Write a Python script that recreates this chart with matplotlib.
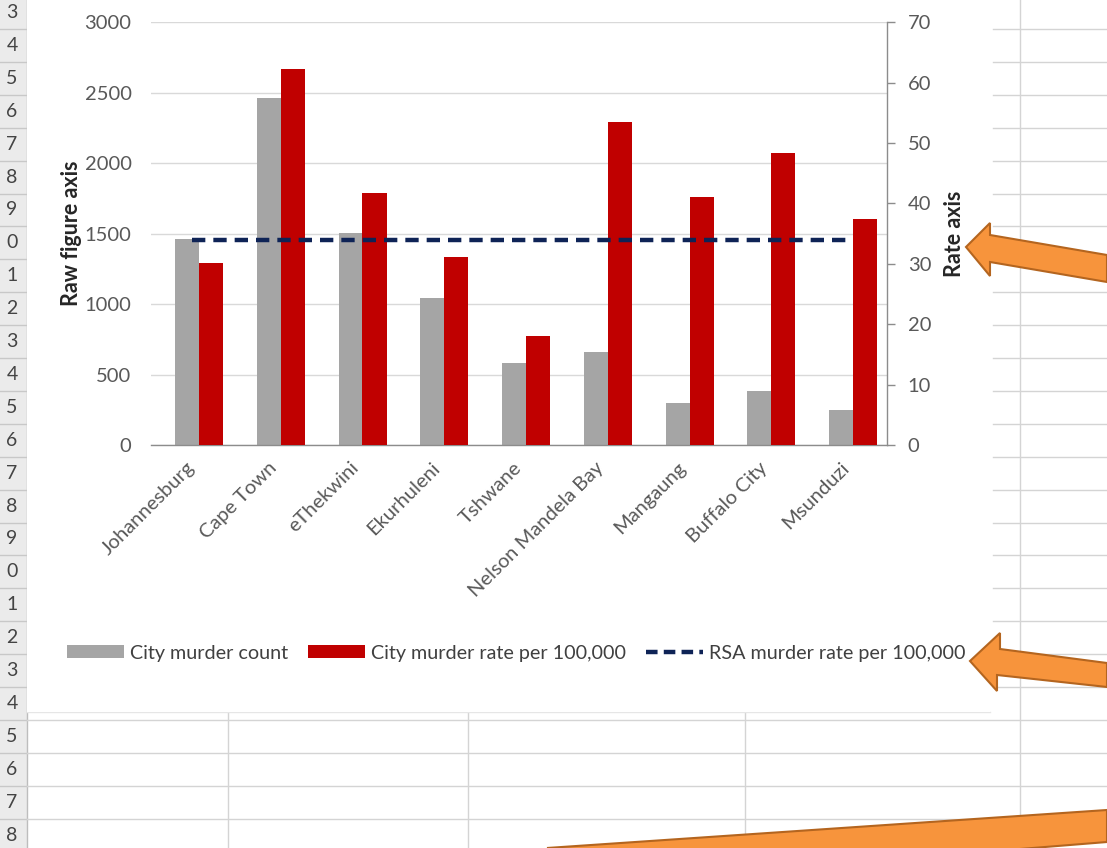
import matplotlib
matplotlib.use("Agg")
import matplotlib.pyplot as plt
from matplotlib.patches import Polygon, Rectangle, Patch
from matplotlib.lines import Line2D
from matplotlib.transforms import ScaledTranslation
import numpy as np

# ---------------- data ----------------
cities = ["Johannesburg", "Cape Town", "eThekwini", "Ekurhuleni", "Tshwane",
          "Nelson Mandela Bay", "Mangaung", "Buffalo City", "Msunduzi"]
murder_count = [1461, 2463, 1506, 1040, 579, 660, 300, 385, 248]
murder_rate = [30.1, 62.2, 41.7, 31.2, 18.0, 53.5, 41.1, 48.3, 37.4]
rsa_rate = [33.9, 33.9, 33.9, 33.9, 33.9, 33.9, 33.9, 33.9, 33.9]
count_ticks = [0, 500, 1000, 1500, 2000, 2500, 3000]
rate_ticks = [0, 10, 20, 30, 40, 50, 60, 70]
legend_labels = ["City murder count", "City murder rate per 100,000",
                 "RSA murder rate per 100,000"]

W, H = 1107, 848
FONT = "Lato"
GRAY = "#A5A5A5"
RED = "#C00000"
NAVY = "#0E2356"
TXT = "#595959"
SHEET = "#D4D4D4"
ORANGE = "#F7943C"
ORANGE_EDGE = "#B4651F"

plt.rcParams["font.family"] = [FONT, "DejaVu Sans"]

fig = plt.figure(figsize=(W / 100, H / 100), dpi=100)
fig.patch.set_facecolor("white")


def P(x, y):
    return (x / W, 1 - y / H)


def hline(x0, x1, y, color=SHEET, lw=1.0, z=-3):
    fig.add_artist(Line2D([x0 / W, x1 / W], [1 - y / H, 1 - y / H],
                          transform=fig.transFigure, color=color, lw=lw, zorder=z))


def vline(x, y0, y1, color=SHEET, lw=1.0, z=-3):
    fig.add_artist(Line2D([x / W, x / W], [1 - y0 / H, 1 - y1 / H],
                          transform=fig.transFigure, color=color, lw=lw, zorder=z))


# ---------------- spreadsheet background ----------------
row_h = 32.9
row0 = 29.0
fig.add_artist(Rectangle(P(0, H), 27 / W, 1, transform=fig.transFigure,
                         facecolor="#EBEBEB", edgecolor="none", zorder=-4))
vline(27, 0, H, color="#BDBDBD", z=-3)
for k in range(-1, 26):
    y_top = row0 + k * row_h
    if k >= 0:
        hline(0, 27, y_top, color="#C8C8C8")
    r = k + 4
    yc = y_top + row_h / 2
    if 3 <= r <= 28 and yc < H:
        fig.text(12 / W, 1 - yc / H, str(r)[-1], ha="center", va="center",
                 fontsize=14, color="#444444", family=[FONT, "DejaVu Sans"], zorder=-2)
for k in range(0, 21):
    hline(993, W, row0 + k * row_h)
vline(1020, 0, H)
for k in range(21, 25):
    hline(27, W, row0 + k * row_h)
for xv in [228, 468, 745]:
    vline(xv, 712, H)
hline(27, 990, 712, color="#E6E6E6")
fig.add_artist(Rectangle(P(27, 712), (990 - 27) / W, 712 / H, transform=fig.transFigure,
                         facecolor="white", edgecolor="none", zorder=-2.5))

# ---------------- chart ----------------
ax = fig.add_axes([151 / W, 1 - 445 / H, (887 - 151) / W, (445 - 22.3) / H])
x = np.arange(len(cities))
ax.bar(x - 0.06, murder_count, width=0.294, color=GRAY, zorder=2)
ax.set_xlim(-0.5, len(cities) - 0.5)
ax.set_ylim(0, 3000)
ax.set_yticks(count_ticks)
ax.yaxis.grid(True, color="#D9D9D9", lw=1.0)
ax.set_axisbelow(True)
ax.set_facecolor("white")
for s in ["left", "top", "right"]:
    ax.spines[s].set_visible(False)
ax.spines["bottom"].set_color("#8C8C8C")
ax.spines["bottom"].set_linewidth(1.0)
ax.tick_params(axis="y", length=0, pad=14, labelsize=14.5, labelcolor=TXT)
ax.tick_params(axis="x", length=0, pad=10, labelsize=14.5, labelcolor=TXT)
ax.set_xticks(x)
ax.set_xticklabels(cities, rotation=45, ha="right", rotation_mode="anchor")
shift = ScaledTranslation(-6 / 100, 0, fig.dpi_scale_trans)
for lab in ax.get_xticklabels():
    lab.set_transform(lab.get_transform() + shift)
ax.set_ylabel("Raw figure axis", fontsize=15.5, fontweight="bold", color="#262626")
ax.yaxis.set_label_coords(-0.094, 0.5)

ax2 = ax.twinx()
ax2.bar(x + 0.233, murder_rate, width=0.294, color=RED, zorder=2)
rsa_line, = ax2.plot(x, rsa_rate, color=NAVY, lw=3.2, zorder=3)
rsa_line.set_dashes([3.0, 1.8])
ax2.set_ylim(0, 70)
ax2.set_yticks(rate_ticks)
for s in ["left", "top", "bottom"]:
    ax2.spines[s].set_visible(False)
ax2.spines["right"].set_color("#8C8C8C")
ax2.spines["right"].set_linewidth(1.0)
ax2.tick_params(axis="y", length=6, width=1, color="#8C8C8C", pad=9,
                labelsize=14.5, labelcolor=TXT)
ax2.set_ylabel("Rate axis", fontsize=15.5, fontweight="bold", color="#262626")
ax2.yaxis.set_label_coords(1.078, 0.5)

# legend
leg_line = Line2D([], [], color=NAVY, lw=3.2)
leg_line.set_dashes([2.6, 1.4])
handles = [Patch(facecolor=GRAY, edgecolor="none"),
           Patch(facecolor=RED, edgecolor="none"),
           leg_line]
leg = fig.legend(handles, legend_labels, loc="center", bbox_to_anchor=(516 / W, 1 - 653 / H),
                 ncol=3, frameon=False, fontsize=14.2, handlelength=2.9, handleheight=0.6,
                 handletextpad=0.3, columnspacing=1.0, borderpad=0, labelcolor="#404040")

# ---------------- orange arrows ----------------
arrow1 = [(966, 247), (990, 223), (990, 235), (1107, 255), (1107, 282),
          (990, 262), (990, 276)]
arrow2 = [(970, 661), (1000, 633), (1000, 649), (1107, 663), (1107, 687),
          (997, 675), (997, 691)]
arrow3 = [(547, 848), (1107, 810), (1107, 842), (760, 870)]
for pts in (arrow1, arrow2, arrow3):
    fig.add_artist(Polygon([P(px, py) for px, py in pts], closed=True,
                           transform=fig.transFigure, facecolor=ORANGE,
                           edgecolor=ORANGE_EDGE, lw=1.5, zorder=6))

fig.savefig("out.png", dpi=100)
